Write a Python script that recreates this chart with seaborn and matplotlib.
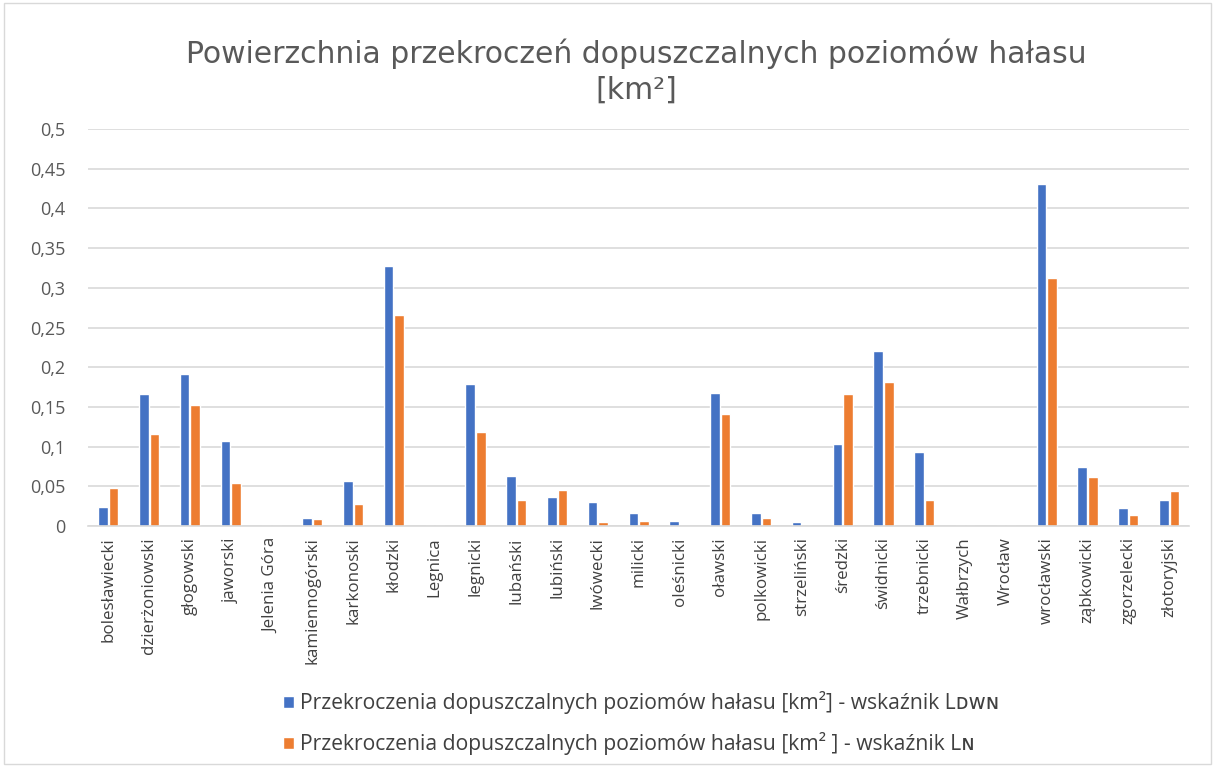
import matplotlib
matplotlib.use("Agg")
import matplotlib.pyplot as plt
import seaborn as sns
import pandas as pd
from matplotlib.patches import Rectangle

categories = ["bolesławiecki", "dzierżoniowski", "głogowski", "jaworski", "Jelenia Góra",
              "kamiennogórski", "karkonoski", "kłodzki", "Legnica", "legnicki", "lubański",
              "lubiński", "lwówecki", "milicki", "oleśnicki", "oławski", "polkowicki",
              "strzeliński", "średzki", "świdnicki", "trzebnicki", "Wałbrzych", "Wrocław",
              "wrocławski", "ząbkowicki", "zgorzelecki", "złotoryjski"]
ldwn = [0.024, 0.166, 0.191, 0.107, 0.0, 0.010, 0.057, 0.327, 0.0, 0.179, 0.063,
        0.037, 0.030, 0.016, 0.007, 0.167, 0.016, 0.005, 0.103, 0.220, 0.093, 0.0, 0.0,
        0.431, 0.074, 0.023, 0.033]
ln = [0.048, 0.116, 0.152, 0.054, 0.0, 0.009, 0.028, 0.266, 0.0, 0.118, 0.033,
      0.045, 0.005, 0.007, 0.0, 0.141, 0.010, 0.0, 0.166, 0.181, 0.033, 0.0, 0.0,
      0.312, 0.062, 0.014, 0.044]
series_names = ["Przekroczenia dopuszczalnych poziomów hałasu [km²] - wskaźnik Lᴅᴡɴ",
                "Przekroczenia dopuszczalnych poziomów hałasu [km² ] - wskaźnik Lɴ"]
yticks = [0, 0.05, 0.1, 0.15, 0.2, 0.25, 0.3, 0.35, 0.4, 0.45, 0.5]
ytick_labels = ["0", "0,05", "0,1", "0,15", "0,2", "0,25", "0,3", "0,35", "0,4", "0,45", "0,5"]
title = "Powierzchnia przekroczeń dopuszczalnych poziomów hałasu\n[km²]"

df = pd.DataFrame({
    "cat": categories * 2,
    "val": ldwn + ln,
    "series": [series_names[0]] * len(categories) + [series_names[1]] * len(categories),
})

sns.set_style("white")
plt.rcParams["font.family"] = ["Open Sans", "DejaVu Sans"]

fig = plt.figure(figsize=(12.15, 7.67), dpi=100)
ax = fig.add_axes([0.0724, 0.314, 0.9066, 0.518])

sns.barplot(data=df, x="cat", y="val", hue="series", hue_order=series_names,
            palette=["#4472C4", "#ED7D31"], saturation=1, width=0.52, gap=0.1,
            ax=ax, order=categories)

handles, labels = ax.get_legend_handles_labels()
ax.get_legend().remove()

ax.set_ylim(0, 0.5)
ax.set_xlim(-0.5, len(categories) - 0.5)
ax.set_yticks(yticks)
ax.set_yticklabels(ytick_labels)
ax.yaxis.grid(True, color="#D9D9D9", linewidth=1.2)
ax.set_axisbelow(True)
for s in ["top", "left", "right"]:
    ax.spines[s].set_visible(False)
ax.spines["bottom"].set_color("#D9D9D9")
ax.spines["bottom"].set_linewidth(1.2)
ax.tick_params(axis="both", length=0, colors="#595959")
ax.tick_params(axis="x", pad=8)
ax.tick_params(axis="y", pad=16, labelsize=13)
ax.set_xticks(range(len(categories)))
ax.set_xticklabels(categories, rotation=90, color="#404040", fontsize=12.2)
ax.set_xlabel("")
ax.set_ylabel("")

fig.text(0.524, 0.907, title, ha="center", va="center", fontsize=21.5, color="#595959",
         linespacing=1.3, family=["DejaVu Sans"])

fig.legend(handles, labels, loc="upper left", bbox_to_anchor=(0.226, 0.11),
           frameon=False, fontsize=15.2, labelcolor="#404040", handlelength=0.5,
           handleheight=0.5, handletextpad=0.3, labelspacing=0.85, borderaxespad=0)

fig.patches.append(Rectangle((0.003, 0.004), 0.994, 0.992, transform=fig.transFigure,
                             fill=False, edgecolor="#D9D9D9", linewidth=1))

fig.savefig("out.png", dpi=100)
